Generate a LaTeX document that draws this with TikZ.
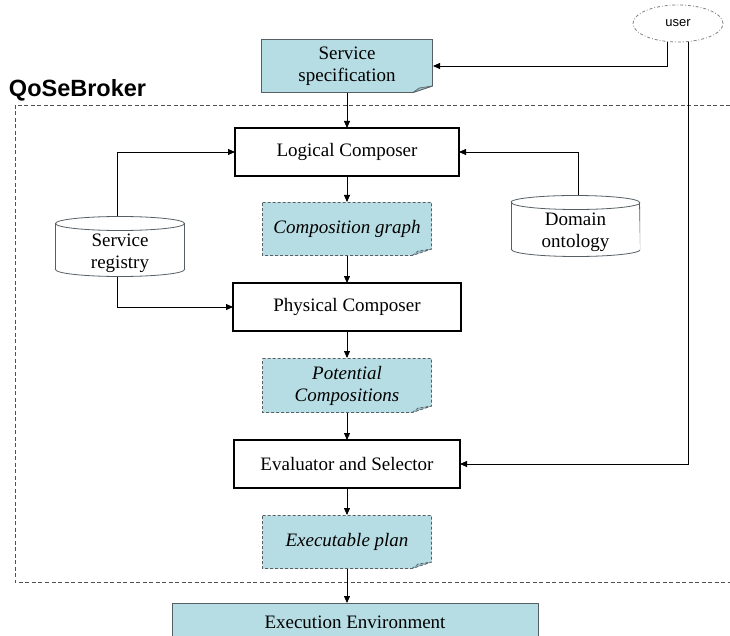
\documentclass[tikz,border=0pt]{standalone}
\usepackage{fontspec}
\setmainfont{Liberation Serif}
\newfontfamily\arialfont{Liberation Sans}
\usetikzlibrary{arrows.meta,shapes.geometric}
\definecolor{qblue}{RGB}{183,221,228}
\definecolor{qfold}{RGB}{150,185,195}
\definecolor{qedge}{RGB}{85,95,100}
\definecolor{qframe}{RGB}{80,80,80}
% tall invisible strut: pushes the label of a repository drum below the lid
\newcommand{\drumtop}{\rule{0pt}{26pt}}

\begin{document}
\begin{tikzpicture}[x=1pt,y=-1pt,
  every node/.style={inner sep=0pt, outer sep=0pt, align=center,
    font=\fontsize{19}{22}\selectfont},
  arr/.style={-{Triangle[length=7pt,width=6pt]}, line width=0.8pt, black},
  proc/.style={draw=black, line width=2.4pt, fill=white, minimum height=48pt},
  noteline/.style={draw=qedge, line width=0.8pt},
  note/.style={minimum width=170pt, minimum height=54pt,
    path picture={
      \path[noteline, fill=qblue]
        ([shift={(0.5pt,-0.5pt)}]path picture bounding box.north west)
        -- ([shift={(-0.5pt,-0.5pt)}]path picture bounding box.north east)
        -- ([shift={(-0.5pt,7pt)}]path picture bounding box.south east)
        -- ([shift={(-20pt,0.5pt)}]path picture bounding box.south east)
        -- ([shift={(0.5pt,0.5pt)}]path picture bounding box.south west)
        -- cycle;
      \path[noteline, fill=qfold, line width=0.6pt]
        ([shift={(-20pt,0.5pt)}]path picture bounding box.south east)
        -- ([shift={(-14pt,5pt)}]path picture bounding box.south east)
        -- ([shift={(-0.5pt,7pt)}]path picture bounding box.south east)
        -- cycle;
    }},
  cyl/.style={minimum width=130pt, minimum height=61pt,
    path picture={
      \draw[line width=0.8pt, draw=qedge, fill=white]
        ([shift={(0.5pt,-7.5pt)}]path picture bounding box.north west)
        -- ([shift={(0.5pt,7.5pt)}]path picture bounding box.south west)
        arc[start angle=180, end angle=360, x radius=64.5pt, y radius=7pt]
        -- ([shift={(-0.5pt,-7.5pt)}]path picture bounding box.north east)
        arc[start angle=0, end angle=180, x radius=64.5pt, y radius=7pt]
        -- cycle;
      \draw[line width=0.8pt, draw=qedge]
        ([shift={(0.5pt,-7.5pt)}]path picture bounding box.north west)
        arc[start angle=180, end angle=360, x radius=64.5pt, y radius=7pt];
    }}
]
\useasboundingbox (0,0) rectangle (730,636);
\clip (0,0) rectangle (730,636);
\fill[white] (0,0) rectangle (730,636);

% broker boundary (open towards the right margin)
\draw[qframe, line width=0.8pt, dash pattern=on 4pt off 2.5pt] (15,105) rectangle (760,582);
\node[anchor=base west, font=\arialfont\bfseries\fontsize{23.5}{27}\selectfont] (title) at (9,97) {QoSeBroker};

% user
\node[ellipse, draw=gray, line width=0.8pt, dash dot, minimum width=90pt, minimum height=37pt,
  font=\arialfont\fontsize{13}{15}\selectfont] (user) at (678,23.5) {user};

% pipeline
\node[note, minimum width=172pt] (spec) at (347,66) {Service\\specification};
\node[proc, minimum width=224pt] (lc) at (347,152) {Logical Composer};
\node[note, noteline/.append style={dashed, dash pattern=on 3pt off 2pt}] (cg) at (347,229) {\itshape Composition graph};
\node[proc, minimum width=228pt] (pc) at (347,307) {Physical Composer};
\node[note, minimum height=55pt, noteline/.append style={dashed, dash pattern=on 3pt off 2pt}] (pot) at (347,385.5) {\itshape Potential\\\itshape Compositions};
\node[proc, minimum width=226pt] (ev) at (347,464) {Evaluator and Selector};
\node[note, noteline/.append style={dashed, dash pattern=on 3pt off 2pt}] (plan) at (347,542) {\itshape Executable plan};
\node[draw=qedge, line width=0.8pt, fill=qblue, minimum width=366pt, minimum height=38pt] (env) at (355,622) {Execution Environment};

% repositories
\node[cyl] (reg) at (120,246.5) {\drumtop Service\\registry};
\node[cyl, minimum width=129pt, minimum height=62pt] (ont) at (575.5,226) {\drumtop Domain\\ontology};

% flow
\draw[arr] (spec) -- (lc);
\draw[arr] (lc) -- (cg);
\draw[arr] (cg) -- (pc);
\draw[arr] (pc) -- (pot);
\draw[arr] (pot) -- (ev);
\draw[arr] (ev) -- (plan);
\draw[arr] (plan) -- (plan |- env.north);

\draw[arr] ([xshift=-3pt]reg.north) |- (lc.west);
\draw[arr] ([xshift=-3pt]reg.south) |- (pc.west);
\draw[arr] ([xshift=3pt]ont.north) |- (lc.east);

\draw[arr] ([xshift=-11pt]user.south) |- (spec.east);
\draw[arr] ([xshift=10pt]user.south) |- (ev.east);
\end{tikzpicture}
\end{document}
